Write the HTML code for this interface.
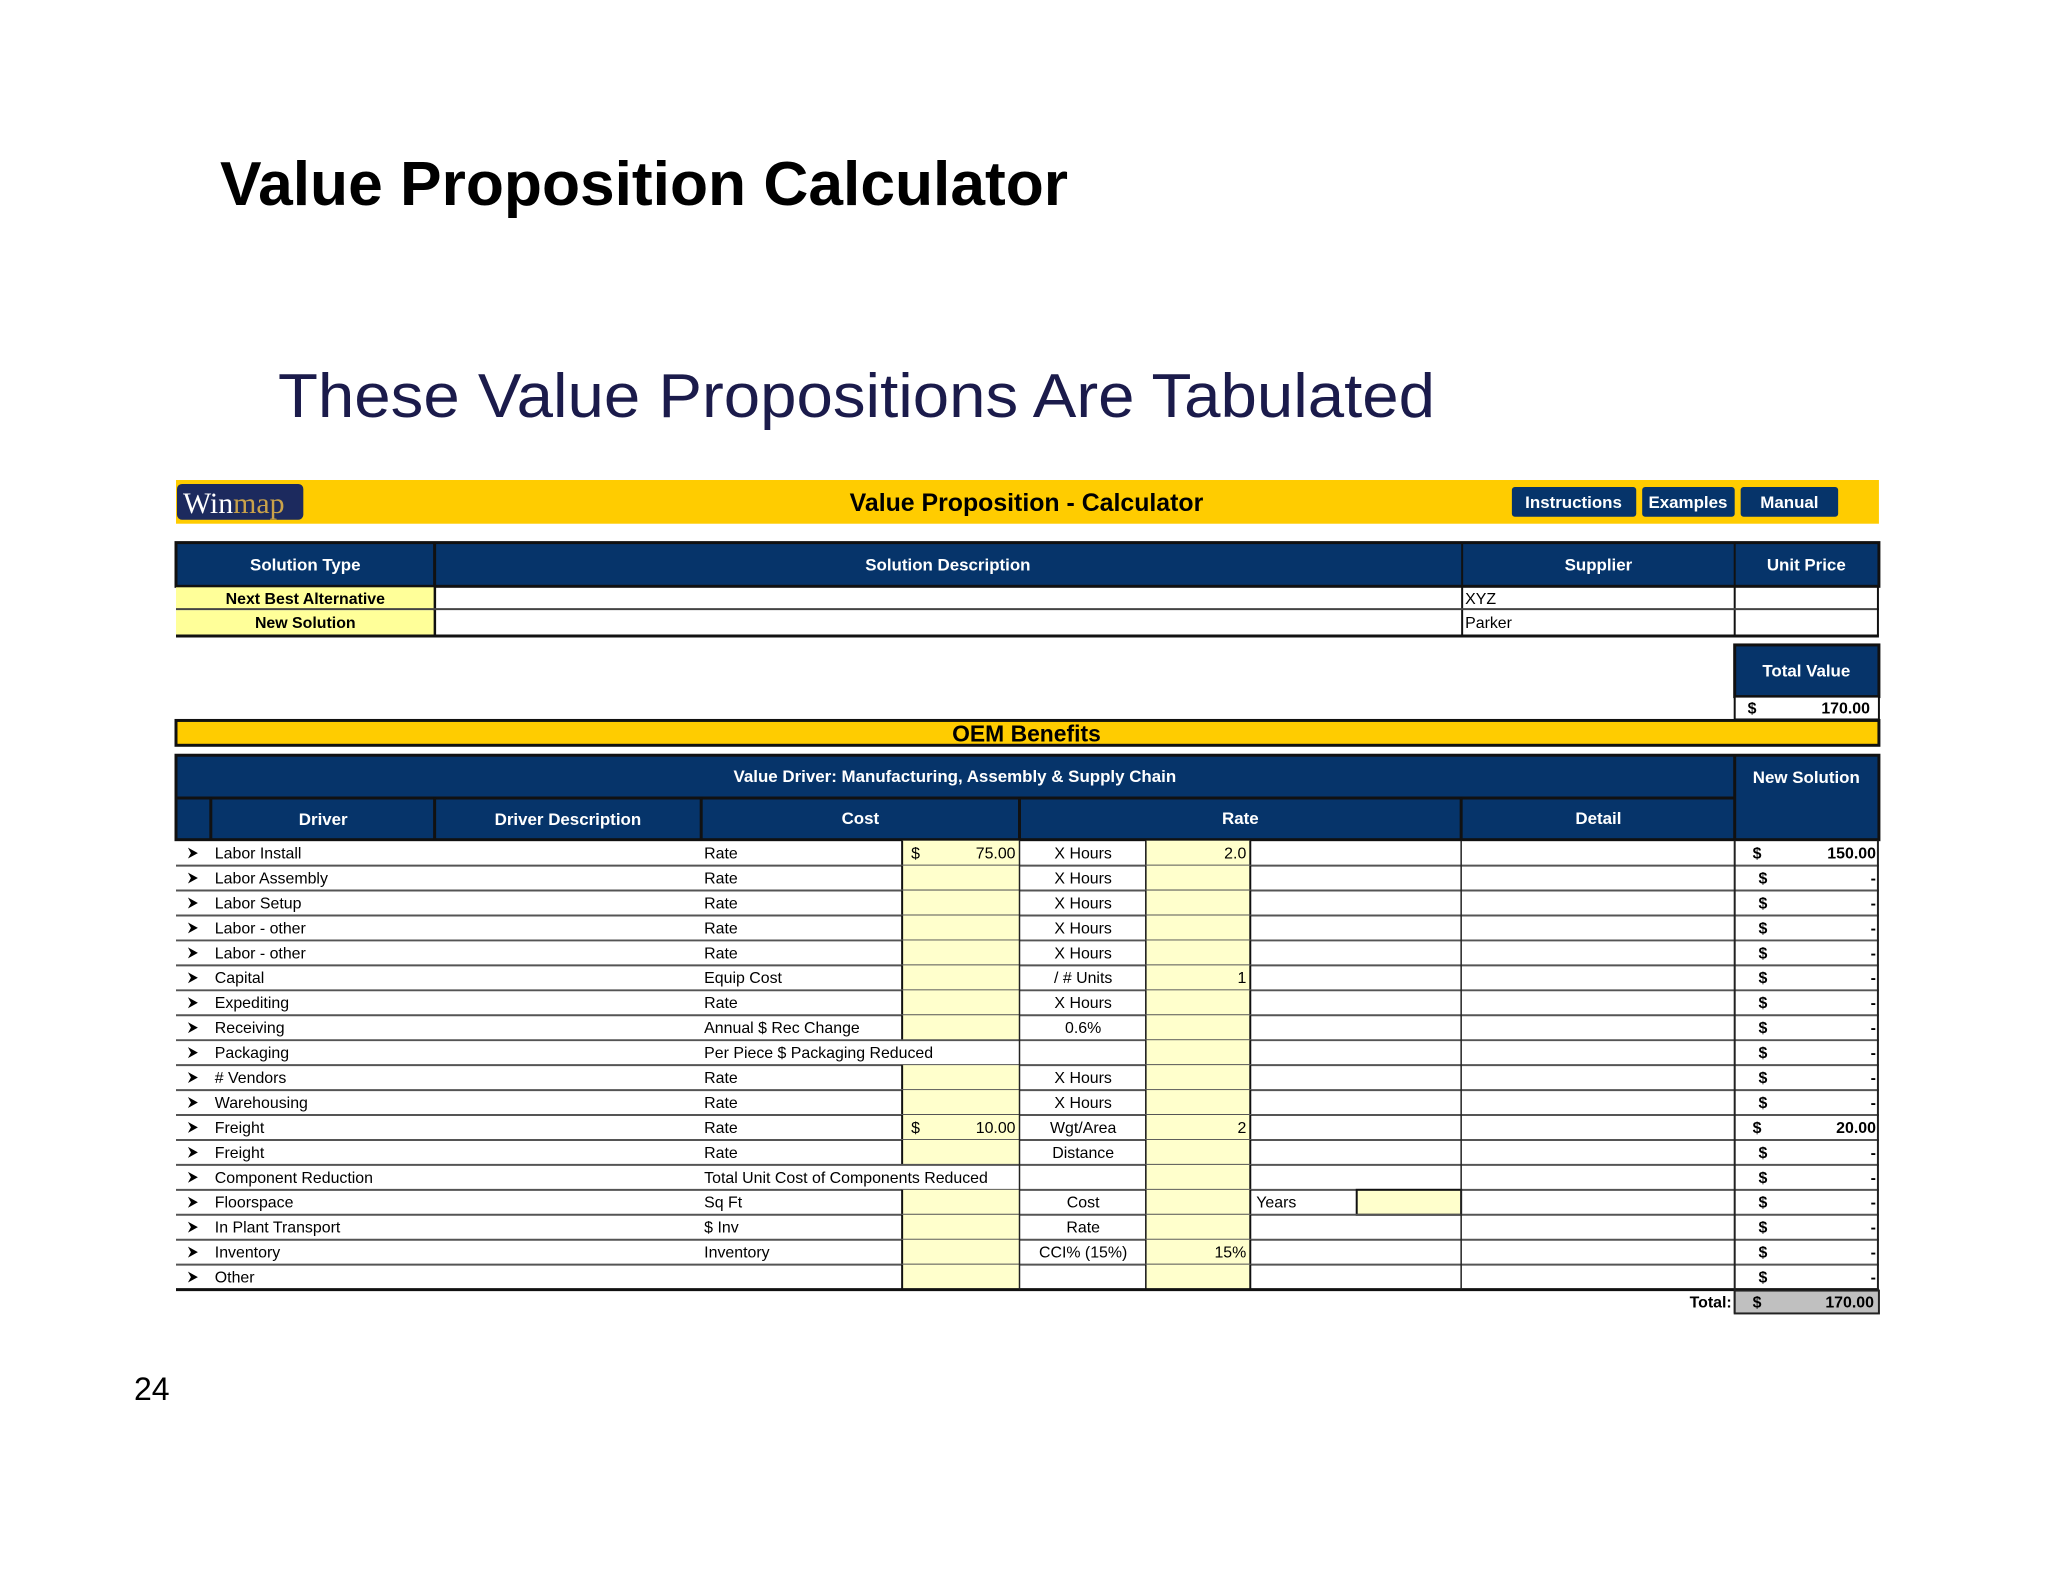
<!DOCTYPE html>
<html><head><meta charset="utf-8">
<style>
html,body{margin:0;padding:0;background:#fff;}
svg{display:block;}
.n{font-family:"Liberation Sans Narrow","Liberation Sans",sans-serif;}
</style></head>
<body>
<svg id="pg" width="2048" height="1582" viewBox="0 0 2048 1582" xmlns="http://www.w3.org/2000/svg">
<text x="220" y="205" font-family="Liberation Sans, sans-serif" font-weight="bold" font-size="62" textLength="848" lengthAdjust="spacingAndGlyphs" fill="#000">Value Proposition Calculator</text>
<text x="278" y="417" font-family="Liberation Sans, sans-serif" font-size="62" textLength="1157" lengthAdjust="spacingAndGlyphs" fill="#1b1b4b">These Value Propositions Are Tabulated</text>
<text x="134" y="1400" font-family="Liberation Sans, sans-serif" font-size="32" fill="#000">24</text>

<g transform="translate(176,480) scale(0.9947,0.9936) translate(-176,-480)">
<g>
<rect x="176" y="480" width="1712" height="44" fill="#ffcc00"/>
<rect x="177" y="484" width="127" height="36" rx="5" fill="#1c2a5e"/>
<text x="183" y="513" font-family="Liberation Serif, serif" font-size="30" fill="#fff">Win<tspan fill="#c9a24a">map</tspan></text>
<text x="1031" y="511" text-anchor="middle" font-family="Liberation Sans, sans-serif" font-weight="bold" font-size="25" fill="#000">Value Proposition - Calculator</text>
<rect x="1519" y="487" width="125" height="30" rx="3" fill="#06346a"/>
<text x="1581" y="508" text-anchor="middle" class="n" font-weight="bold" font-size="17" fill="#fff">Instructions</text>
<rect x="1650" y="487" width="93" height="30" rx="3" fill="#06346a"/>
<text x="1696" y="508" text-anchor="middle" class="n" font-weight="bold" font-size="17" fill="#fff">Examples</text>
<rect x="1749" y="487" width="98" height="30" rx="3" fill="#06346a"/>
<text x="1798" y="508" text-anchor="middle" class="n" font-weight="bold" font-size="17" fill="#fff">Manual</text>
</g>

<g>
<rect x="176" y="543" width="1712" height="44" fill="#06346a" stroke="#111" stroke-width="3"/>
<line x1="436" y1="543" x2="436" y2="637" stroke="#111" stroke-width="3"/>
<line x1="1469" y1="543" x2="1469" y2="637" stroke="#111" stroke-width="2"/>
<line x1="1743" y1="543" x2="1743" y2="637" stroke="#111" stroke-width="2"/>
<text x="306" y="571" text-anchor="middle" class="n" font-weight="bold" font-size="17" fill="#fff">Solution Type</text>
<text x="952" y="571" text-anchor="middle" class="n" font-weight="bold" font-size="17" fill="#fff">Solution Description</text>
<text x="1606" y="571" text-anchor="middle" class="n" font-weight="bold" font-size="17" fill="#fff">Supplier</text>
<text x="1815" y="571" text-anchor="middle" class="n" font-weight="bold" font-size="17" fill="#fff">Unit Price</text>
<rect x="176" y="588" width="259" height="22" fill="#ffff99"/>
<rect x="176" y="611" width="259" height="25" fill="#ffff99"/>
<line x1="176" y1="610" x2="1888" y2="610" stroke="#444" stroke-width="2"/>
<line x1="176" y1="637" x2="1888" y2="637" stroke="#111" stroke-width="3"/>
<line x1="1887" y1="587" x2="1887" y2="637" stroke="#111" stroke-width="2"/>
<text x="306" y="605" text-anchor="middle" class="n" font-weight="bold" font-size="16" fill="#000">Next Best Alternative</text>
<text x="306" y="629" text-anchor="middle" class="n" font-weight="bold" font-size="16" fill="#000">New Solution</text>
<text x="1472" y="605" class="n" font-size="16" fill="#000">XYZ</text>
<text x="1472" y="629" class="n" font-size="16" fill="#000">Parker</text>
</g>

<g>
<rect x="1743" y="646" width="145" height="52" fill="#06346a" stroke="#111" stroke-width="3"/>
<text x="1815" y="678" text-anchor="middle" class="n" font-weight="bold" font-size="17" fill="#fff">Total Value</text>
<rect x="1743" y="698" width="145" height="23" fill="#fff" stroke="#111" stroke-width="2"/>
<text x="1756" y="715" class="n" font-weight="bold" font-size="16">$</text>
<text x="1879" y="715" text-anchor="end" class="n" font-weight="bold" font-size="16">170.00</text>
</g>

<g>
<rect x="176" y="722" width="1712" height="25" fill="#ffcc00" stroke="#111" stroke-width="3"/>
<text x="1031" y="743" text-anchor="middle" font-family="Liberation Sans, sans-serif" font-weight="bold" font-size="23">OEM Benefits</text>
</g>

<g>
<rect x="176" y="757" width="1712" height="85" fill="#06346a" stroke="#111" stroke-width="3"/>
<line x1="176" y1="800" x2="1743" y2="800" stroke="#111" stroke-width="3"/>
<line x1="1743" y1="757" x2="1743" y2="842" stroke="#111" stroke-width="3"/>
<line x1="211" y1="800" x2="211" y2="842" stroke="#111" stroke-width="3"/>
<line x1="436" y1="800" x2="436" y2="842" stroke="#111" stroke-width="3"/>
<line x1="704" y1="800" x2="704" y2="842" stroke="#111" stroke-width="3"/>
<line x1="1024" y1="800" x2="1024" y2="842" stroke="#111" stroke-width="3"/>
<line x1="1468" y1="800" x2="1468" y2="842" stroke="#111" stroke-width="3"/>
<text x="959" y="784" text-anchor="middle" class="n" font-weight="bold" font-size="17" fill="#fff">Value Driver:  Manufacturing, Assembly &amp; Supply Chain</text>
<text x="1815" y="785" text-anchor="middle" class="n" font-weight="bold" font-size="17" fill="#fff">New Solution</text>
<text x="324" y="827" text-anchor="middle" class="n" font-weight="bold" font-size="17" fill="#fff">Driver</text>
<text x="570" y="827" text-anchor="middle" class="n" font-weight="bold" font-size="17" fill="#fff">Driver Description</text>
<text x="864" y="826" text-anchor="middle" class="n" font-weight="bold" font-size="17" fill="#fff">Cost</text>
<text x="1246" y="826" text-anchor="middle" class="n" font-weight="bold" font-size="17" fill="#fff">Rate</text>
<text x="1606" y="826" text-anchor="middle" class="n" font-weight="bold" font-size="17" fill="#fff">Detail</text>
</g>
<g id="rows"></g>
</g>
</svg>
<script>
const drivers=["Labor Install","Labor Assembly","Labor Setup","Labor  - other","Labor - other","Capital","Expediting","Receiving","Packaging","# Vendors","Warehousing","Freight","Freight","Component Reduction","Floorspace","In Plant Transport","Inventory","Other"];
const descs=["Rate","Rate","Rate","Rate","Rate","Equip Cost","Rate","Annual $ Rec Change","Per Piece $ Packaging Reduced","Rate","Rate","Rate","Rate","Total Unit Cost of Components Reduced","Sq Ft","$ Inv","Inventory",""];
const costBox=[1,1,1,1,1,1,1,1,0,1,1,1,1,0,1,1,1,1];
const costVals=["75.00","","","","","","","","","","","10.00","","","","","",""];
const ops=["X Hours","X Hours","X Hours","X Hours","X Hours","/ # Units","X Hours","0.6%","","X Hours","X Hours","Wgt/Area","Distance","","Cost","Rate","CCI% (15%)",""];
const rateVals=["2.0","","","","","1","","","","","","2","","","","","15%",""];
const newSol=["150.00","-","-","-","-","-","-","-","-","-","-","20.00","-","-","-","-","-","-"];
const totalVal="170.00";

const NS="http://www.w3.org/2000/svg";
const g=document.getElementById('rows');
const top0=843, rh=25.1;
function yRow(i){return top0+i*rh;}
function mk(tag,attrs,txt){const e=document.createElementNS(NS,tag);for(const k in attrs)e.setAttribute(k,attrs[k]);if(txt!==undefined)e.textContent=txt;g.appendChild(e);return e;}
function txt(x,y,s,anchor,bold){return mk('text',{x:x,y:y,'text-anchor':anchor||'start',class:'n','font-size':16,'font-weight':bold?'bold':'normal',fill:'#000'},s);}
drivers.forEach((d,i)=>{
  const y=yRow(i), b=y+18;
  let e;
  e=mk('rect',{x:906,y:y,width:118,height:rh,fill:costBox[i]?'#ffffcc':'none'});
  
  
  if(costBox[i]){mk('line',{x1:906,y1:y,x2:906,y2:y+rh,stroke:'#111','stroke-width':2});}
  e=mk('rect',{x:1151,y:y,width:105,height:rh,fill:'#ffffcc'});
  
  
  mk('line',{x1:1151,y1:y,x2:1151,y2:y+rh,stroke:'#111','stroke-width':1.5});
  mk('line',{x1:1256,y1:y,x2:1256,y2:y+rh,stroke:'#111','stroke-width':2});
  if(d==="Floorspace"){
    e=mk('rect',{x:1363,y:y,width:105,height:rh,fill:'#ffffcc',stroke:'#111','stroke-width':2});
    
    
    e=txt(1262,b,'Years');
    
    
  }
  e=mk('path',{d:`M${188},${y+7} L${198},${y+12.5} L${188},${y+18} L${191},${y+12.5} Z`,fill:'#000'});
  
  
  e=txt(215,b,d);
  
  
  e=txt(707,b,descs[i]);
  
  
  if(costVals[i]){
    e=txt(915,b,'$');
    
    
    e=txt(1020,b,costVals[i],'end');
    
    
  }
  e=txt(1088,b,ops[i],'middle');
  
  
  e=txt(1252,b,rateVals[i],'end');
  
  
  const isNum=newSol[i]!=='-';
  e=txt(isNum?1761:1767,b,'$','start',true);
  
  
  e=txt(1885,b,newSol[i],'end',true);
  
  
  e=mk('line',{x1:176,y1:y+rh,x2:1888,y2:y+rh,stroke:i===drivers.length-1?'#111':'#555','stroke-width':i===drivers.length-1?3:2});
  
  
});
const yEnd=yRow(drivers.length);
[1024,1468].forEach(x=>{mk('line',{x1:x,y1:top0,x2:x,y2:yEnd,stroke:'#222','stroke-width':1.5});});
mk('line',{x1:1743,y1:top0,x2:1743,y2:yEnd+24,stroke:'#222','stroke-width':2});
mk('line',{x1:1887,y1:top0,x2:1887,y2:yEnd+24,stroke:'#222','stroke-width':2});
let t=mk('rect',{x:1743,y:yEnd+1,width:145,height:23,fill:'#c0c0c0',stroke:'#222','stroke-width':2});


t=txt(1740,yEnd+18,'Total:','end',true);


t=txt(1761,yEnd+18,'$','start',true);


t=txt(1883,yEnd+18,totalVal,'end',true);


</script>
</body></html>
